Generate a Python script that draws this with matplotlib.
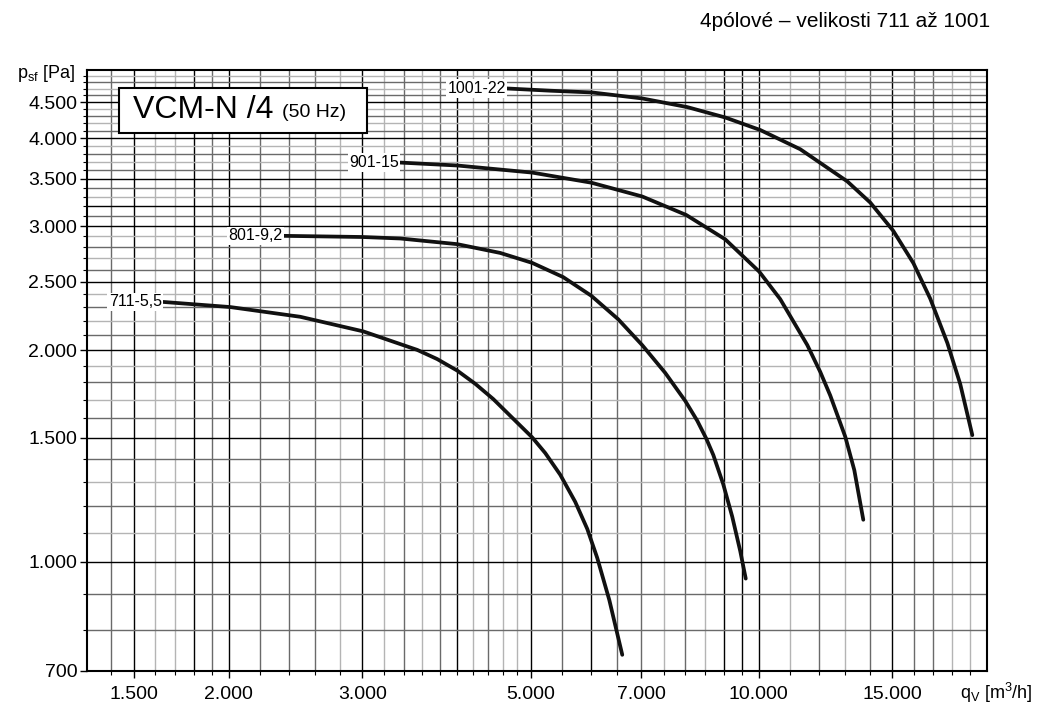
import numpy as np
import matplotlib
matplotlib.use("Agg")
import matplotlib.pyplot as plt
from matplotlib.patches import Rectangle
from matplotlib.ticker import FixedLocator, FixedFormatter, NullFormatter

plt.rcParams['font.family'] = ['Liberation Sans', 'DejaVu Sans']
plt.rcParams['mathtext.fontset'] = 'custom'
plt.rcParams['mathtext.rm'] = 'Liberation Sans'

# fan curves (qv in m3/h, psf in Pa)
x711 = [1638, 2009, 2484, 3008, 3544, 3765, 4002, 4227, 4464, 5025, 5228, 5472, 5727,
        5940, 6123, 6351, 6606]
y711 = [2341, 2302, 2230, 2126, 2001, 1942, 1870, 1791, 1704, 1503, 1428, 1330, 1217,
        1114, 1013, 883, 738]

x801 = [2366, 2999, 3366, 4002, 4560, 5025, 5521, 6012, 6525, 7020, 7527, 8000, 8296, 8526,
        8710, 8976, 9225, 9453, 9612]
y801 = [2906, 2895, 2881, 2828, 2748, 2660, 2539, 2389, 2212, 2032, 1856, 1693, 1587, 1497,
        1419, 1290, 1160, 1036, 947]

x901 = [3366, 4002, 5025, 6012, 7020, 8024, 9032, 10013, 10672, 11588, 12053, 12424, 13005,
        13367, 13736]
y901 = [3693, 3658, 3574, 3458, 3305, 3111, 2873, 2585, 2363, 2033, 1862, 1724, 1506,
        1350, 1148]

x1001 = [4657, 5309, 6030, 7020, 8048, 9032, 10046, 11342, 13083, 14031, 15045, 15995, 16831,
         17731, 18437, 19128]
y1001 = [4706, 4672, 4645, 4555, 4428, 4280, 4108, 3858, 3473, 3240, 2954, 2657, 2367,
         2047, 1790, 1514]

curve_names = ['711-5,5', '801-9,2', '901-15', '1001-22']
curves = [(x711, y711), (x801, y801), (x901, y901), (x1001, y1001)]

xticks = [1500, 2000, 3000, 5000, 7000, 10000, 15000]
xticklabels = ['1.500', '2.000', '3.000', '5.000', '7.000', '10.000', '15.000']
yticks = [700, 1000, 1500, 2000, 2500, 3000, 3500, 4000, 4500]
yticklabels = ['700', '1.000', '1.500', '2.000', '2.500', '3.000', '3.500', '4.000', '4.500']

# grid lines of the log paper
xgrid = list(range(1400, 2000, 100)) + list(range(2000, 5000, 200)) + \
    list(range(5000, 10000, 500)) + list(range(10000, 20000, 1000))
ygrid = list(range(800, 5000, 100))
x_black = [1500, 1800, 2000, 3000, 4000, 5000, 6000, 9000, 9500, 10000, 15000]
x_light = [1600, 1700, 2800, 3200, 3600, 4200, 4600, 4800, 7500, 8500, 11000, 13000, 18000, 19000]
y_black = [1000, 1500, 2000, 2500, 3000, 3200, 3500, 4000, 4500]
y_light = [1100, 1300, 1700, 1900, 2200, 2400, 2700, 2900, 3300, 3700, 3900, 4200, 4400, 4700, 4900]

fig = plt.figure(figsize=(10.51, 7.19), dpi=100)
ax = fig.add_axes([0.0828, 0.0668, 0.8563, 0.8359])
ax.set_xscale('log')
ax.set_yscale('log')
ax.set_xlim(1300, 20000)
ax.set_ylim(700, 5000)

for v in xgrid:
    c = '#000000' if v in x_black else ('#b4b4b4' if v in x_light else '#6a6a6a')
    ax.axvline(v, color=c, lw=1.0, zorder=1)
for v in ygrid:
    c = '#000000' if v in y_black else ('#b4b4b4' if v in y_light else '#6a6a6a')
    ax.axhline(v, color=c, lw=1.0, zorder=1)

ax.xaxis.set_major_locator(FixedLocator(xticks))
ax.xaxis.set_major_formatter(FixedFormatter(xticklabels))
ax.xaxis.set_minor_locator(FixedLocator([v for v in xgrid if v not in xticks]))
ax.xaxis.set_minor_formatter(NullFormatter())
ax.yaxis.set_major_locator(FixedLocator(yticks))
ax.yaxis.set_major_formatter(FixedFormatter(yticklabels))
ax.yaxis.set_minor_locator(FixedLocator([v for v in ygrid if v not in yticks]))
ax.yaxis.set_minor_formatter(NullFormatter())

ax.tick_params(axis='both', which='major', length=5, width=1.0, labelsize=14, color='black')
ax.tick_params(axis='both', which='minor', length=3, width=0.8, color='black')
ax.tick_params(axis='x', which='major', pad=6)
ax.tick_params(axis='y', which='major', pad=2)
for s in ax.spines.values():
    s.set_linewidth(1.5)
    s.set_color('black')
    s.set_zorder(3)

for (xs, ys), name in zip(curves, curve_names):
    ax.plot(xs, ys, color='#111111', lw=2.7, solid_capstyle='round',
            solid_joinstyle='round', zorder=4)
    ax.annotate(name, xy=(xs[0], ys[0]), xytext=(-1, 0), textcoords='offset points',
                ha='right', va='center', fontsize=11.5, zorder=5,
                bbox=dict(boxstyle='square,pad=0.1', fc='white', ec='none'))

# model box
ax.add_patch(Rectangle((0.0356, 0.895), 0.2754, 0.075, transform=ax.transAxes,
                       fc='white', ec='black', lw=1.5, zorder=6))
ax.text(0.0511, 0.933, 'VCM-N /4', transform=ax.transAxes, fontsize=23,
        ha='left', va='center', zorder=7)
ax.text(0.2167, 0.930, '(50 Hz)', transform=ax.transAxes, fontsize=14,
        ha='left', va='center', zorder=7)

fig.text(0.0165, 0.892, r'p$_{\rm sf}$ [Pa]', fontsize=13, ha='left', va='baseline')
fig.text(0.913, 0.028, r'q$_{\rm V}$ [m$^3$/h]', fontsize=13, ha='left', va='baseline')
fig.text(0.942, 0.9625, '4pólové – velikosti 711 až 1001', fontsize=15, ha='right', va='baseline')

fig.savefig('out.png', dpi=100)
